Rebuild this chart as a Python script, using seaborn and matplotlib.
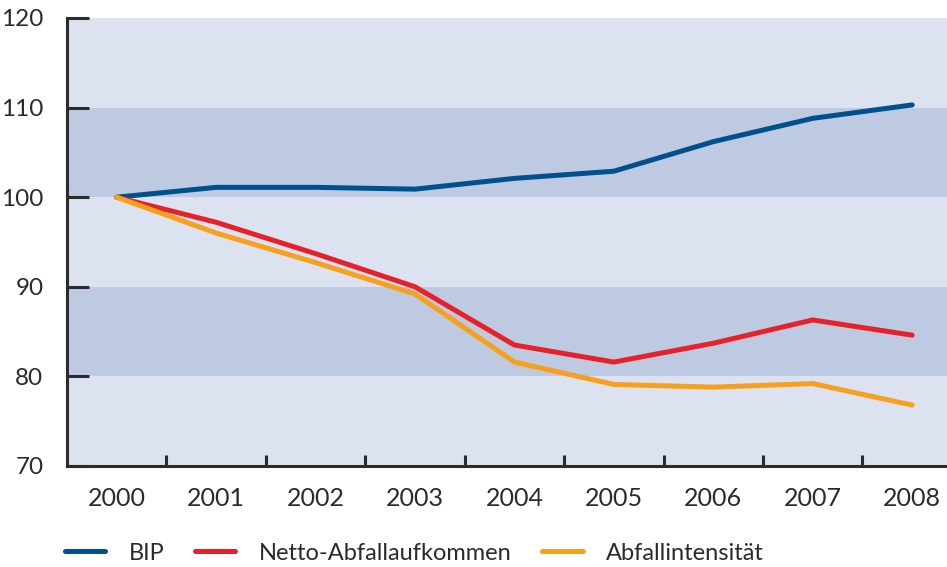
import matplotlib
matplotlib.use('Agg')
import matplotlib.pyplot as plt
import seaborn as sns
import pandas as pd

years = [2000, 2001, 2002, 2003, 2004, 2005, 2006, 2007, 2008]
bip = [100, 101.1, 101.1, 100.9, 102.1, 102.9, 106.2, 108.8, 110.3]
netto = [100, 97.2, 93.7, 90.0, 83.5, 81.6, 83.7, 86.3, 84.6]
intensitaet = [100, 96.0, 92.7, 89.2, 81.6, 79.1, 78.8, 79.2, 76.8]

series_names = ["BIP", "Netto-Abfallaufkommen", "Abfallintensität"]
colors = ["#00508E", "#E8202A", "#F6A01E"]
y_ticks = [70, 80, 90, 100, 110, 120]

df = pd.DataFrame({
    "Jahr": years * 3,
    "Wert": bip + netto + intensitaet,
    "Reihe": [s for s in series_names for _ in years],
})

sns.set_theme(style="white")
plt.rcParams['font.family'] = ['Lato', 'DejaVu Sans']
text_col = "#2b2b2b"
fs = 18

fig = plt.figure(figsize=(9.47, 5.67), dpi=100)
ax = fig.add_axes([67 / 947, 1 - 466 / 567, 1 - 67 / 947, 448 / 567])

# background bands
ax.set_facecolor("#DCE2F0")
for lo in (80, 100):
    ax.axhspan(lo, lo + 10, color="#BDCAE2", lw=0, zorder=0)

sns.lineplot(data=df, x="Jahr", y="Wert", hue="Reihe", palette=colors,
             hue_order=series_names, linewidth=3.6, ax=ax, legend=False,
             solid_capstyle="round", solid_joinstyle="round")

ax.set_xlim(1999.5, 2008.35)
ax.set_ylim(70, 120)
ax.set_xlabel("")
ax.set_ylabel("")

ax.set_yticks(y_ticks)
ax.set_yticklabels([str(t) for t in y_ticks], fontsize=17.5, color=text_col)
ax.tick_params(axis="y", direction="in", length=16, width=2.2, color=text_col,
               pad=17, left=True)

ax.set_xticks(years)
ax.set_xticklabels([str(y) for y in years], fontsize=fs, color=text_col)
ax.set_xticks([y + 0.5 for y in years[:-1]], minor=True)
ax.tick_params(axis="x", which="major", length=0, pad=15)
ax.tick_params(axis="x", which="minor", direction="in", length=8, width=2.2,
               color=text_col, bottom=True)

for s in ("top", "right"):
    ax.spines[s].set_visible(False)
for s in ("left", "bottom"):
    ax.spines[s].set_color(text_col)
    ax.spines[s].set_linewidth(2.2)

handles = [plt.Line2D([], [], color=c, lw=3.6, solid_capstyle="round") for c in colors]
leg = fig.legend(handles, series_names, loc="center left", ncol=3,
                 bbox_to_anchor=(65 / 947, 14 / 567), frameon=False, fontsize=17,
                 borderaxespad=0, borderpad=0,
                 handlelength=1.7, handletextpad=1.0, columnspacing=1.3)
for t in leg.get_texts():
    t.set_color(text_col)

fig.savefig("out.png", dpi=100)
